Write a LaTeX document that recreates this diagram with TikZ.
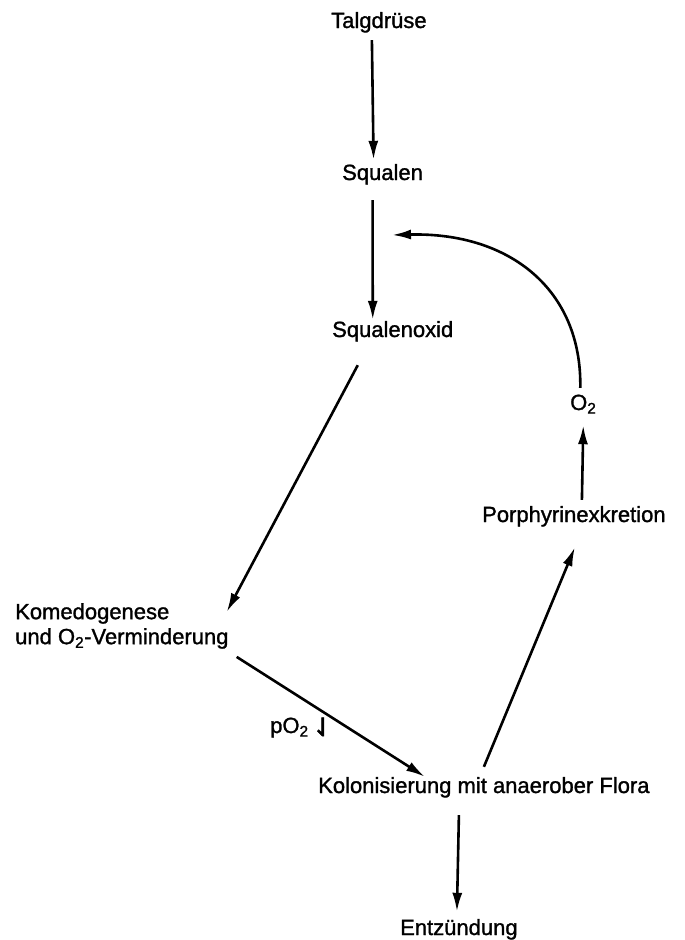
\documentclass[tikz,border=0pt]{standalone}
\usepackage{fontspec}
\setmainfont{Liberation Sans}[FakeBold=1.3]
\newfontfamily\harpfont{DejaVu Sans}[FakeBold=2]
\usetikzlibrary{arrows.meta,calc}
\begin{document}
\begin{tikzpicture}[x=1pt,y=-1pt,
  lbl/.style={inner sep=0pt, anchor=base west, font=\fontsize{22}{25}\selectfont, text height=16pt, text depth=5pt},
  arr/.style={line width=2.6pt, -{Latex[length=19pt,width=10pt]}}]
\useasboundingbox (0,0) rectangle (685,940);
\node[lbl] (talg) at (331,28) {Talgdrüse};
\node[lbl] (squalen) at (342,180) {Squalen};
\node[lbl] (oxid) at (332,337) {Squalenoxid};
\node[inner sep=0pt, anchor=north west, align=left, font=\fontsize{22}{25}\selectfont] (komedo) at (15,603) {Komedogenese\\und O\textsubscript{2}-Verminderung};
\node[lbl] (po2) at (270,733) {pO\textsubscript{2}\,\raisebox{-3pt}{\harpfont\fontsize{25}{27}\selectfont ⇃}};
\node[lbl] (kolon) at (318,793) {Kolonisierung mit anaerober Flora};
\node[lbl] (entz) at (400,935) {Entzündung};
\node[lbl] (porph) at (482,522) {Porphyrinexkretion};
\node[lbl] (otwo) at (570,410) {O\textsubscript{2}};
\coordinate (cusp) at (392,235);

\draw[arr] ($(talg.south)+(-7,7)$) -- ($(squalen.north)+(-9,-4)$);
\draw[arr] ($(squalen.south)+(-10,15)$) -- ($(oxid.north)+(-20,-1)$);
\draw[arr] ($(oxid.south)+(-35,23)$) -- ($(komedo.north east)+(-2,9)$);
\draw[arr] ($(komedo.south east)+(8,8)$) -- ($(kolon.north west)+(107,0)$);
\draw[arr] ($(kolon.north)+(0,-10)$) -- ($(porph.south)+(1,20)$);
\draw[arr] ($(kolon.south)+(-25,17)$) -- ($(entz.north)+(-2,-7)$);
\draw[arr] ($(porph.north)+(8,-6)$) -- ($(otwo.south)+(0,10)$);
\draw[arr] ($(otwo.north)+(-3,-6)$) .. controls (582,290) and (510,232) .. (cusp);
\end{tikzpicture}
\end{document}
